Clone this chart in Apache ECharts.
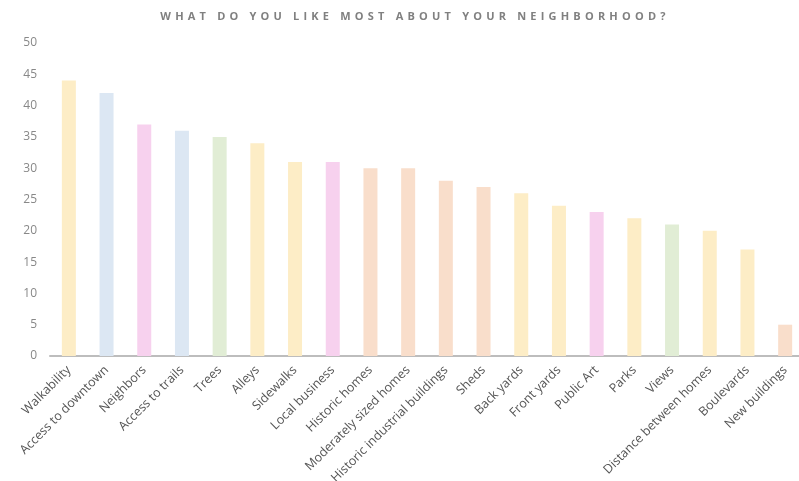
<!DOCTYPE html>
<html>
<head>
<meta charset="utf-8">
<script src="https://cdn.jsdelivr.net/npm/echarts@6/dist/echarts.min.js"></script>
<style>
  html, body { margin: 0; padding: 0; background: #fff; }
  #wrap { position: relative; width: 799px; height: 481px; }
  #title {
    position: absolute; left: 0; top: 9px; width: 830px; margin: 0;
    text-align: center; font-family: "Open Sans", sans-serif; font-weight: 700;
    font-size: 11px; letter-spacing: 4.2px; color: #808080; line-height: 14px;
  }
  #chart { position: absolute; left: 0; top: 0; width: 799px; height: 481px; }
</style>
</head>
<body>
<div id="wrap">
  <div id="chart"></div>
  <h1 id="title">WHAT DO YOU LIKE MOST ABOUT YOUR NEIGHBORHOOD?</h1>
</div>
<script>
// Survey answers, most popular first
const categories = [
  'Walkability', 'Access to downtown', 'Neighbors', 'Access to trails', 'Trees',
  'Alleys', 'Sidewalks', 'Local business', 'Historic homes', 'Moderately sized homes',
  'Historic industrial buildings', 'Sheds', 'Back yards', 'Front yards', 'Public Art',
  'Parks', 'Views', 'Distance between homes', 'Boulevards', 'New buildings'
];
const responses = [44, 42, 37, 36, 35, 34, 31, 31, 30, 30, 28, 27, 26, 24, 23, 22, 21, 20, 17, 5];
// Theme group of each answer, used to pick the bar colour
const groups = ['Y', 'B', 'P', 'B', 'G', 'Y', 'Y', 'P', 'O', 'O', 'O', 'O', 'Y', 'Y', 'P', 'Y', 'G', 'Y', 'Y', 'O'];
const yTicks = { min: 0, max: 50, interval: 5 };

const palette = { Y: '#FDEDC6', B: '#DCE7F3', P: '#F7D1EE', G: '#E1EDD5', O: '#F9DECB' };

const chart = echarts.init(document.getElementById('chart'), null, { renderer: 'canvas' });
chart.setOption({
  backgroundColor: '#ffffff',
  animation: false,
  grid: { left: 50, right: -5, top: 43, bottom: 125, containLabel: false, outerBoundsMode: 'none' },
  xAxis: {
    type: 'category',
    data: categories,
    axisLine: { lineStyle: { color: '#BDBDBD', width: 2 } },
    axisTick: { show: false },
    axisLabel: {
      interval: 0, rotate: 45, margin: 12,
      color: '#555555', fontSize: 12.5, fontFamily: 'Open Sans, sans-serif'
    }
  },
  yAxis: {
    type: 'value',
    min: yTicks.min, max: yTicks.max, interval: yTicks.interval,
    axisLine: { show: false },
    axisTick: { show: false },
    splitLine: { show: false },
    axisLabel: { color: '#888888', fontSize: 12, margin: 13, fontFamily: 'Open Sans, sans-serif' }
  },
  series: [{
    type: 'bar',
    barWidth: 14,
    data: responses.map((v, i) => ({ value: v, itemStyle: { color: palette[groups[i]] } }))
  }]
});
</script>
</body>
</html>
